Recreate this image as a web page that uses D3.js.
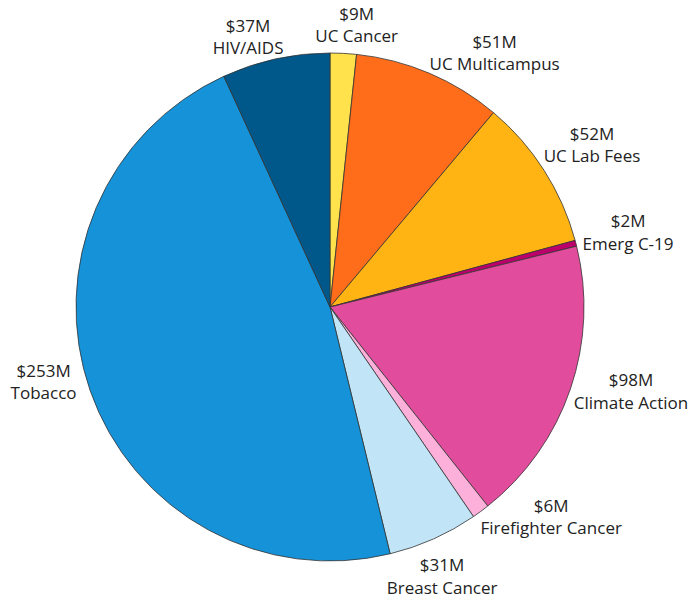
<!DOCTYPE html>
<html>
<head>
<meta charset="utf-8">
<script src="https://cdn.jsdelivr.net/npm/d3@7"></script>
<style>
  body { margin: 0; background: #fff; }
  text { font-family: "Open Sans", sans-serif; font-size: 17px; fill: #222; }
</style>
</head>
<body>
<div id="chart"></div>
<script>
// data (clockwise from 12 o'clock)
var categories = ["UC Cancer", "UC Multicampus", "UC Lab Fees", "Emerg C-19", "Climate Action",
                  "Firefighter Cancer", "Breast Cancer", "Tobacco", "HIV/AIDS"];
var amounts = [9, 51, 52, 2, 98, 6, 31, 253, 37];   // $M
var colors = ["#FFE24C", "#FF6C1A", "#FFB414", "#BC006B", "#E24C9C",
              "#FCB0DA", "#C1E4F6", "#1592D8", "#00578A"];

// label nudges (layout only), relative to a point just outside each slice
var labelNudge = [[12, -2], [55, 4], [26, -11], [27, -4], [36, -6],
                  [55, -15], [-2, 14], [-22, -17], [-22, 4]];

var width = 691, height = 600;
var cx = 330, cy = 307, radius = 254;

var svg = d3.select("#chart").append("svg")
    .attr("width", width)
    .attr("height", height);

var g = svg.append("g")
    .attr("transform", "translate(" + cx + "," + cy + ")");

var data = categories.map(function(c, i) {
  return {name: c, value: amounts[i], color: colors[i], nudge: labelNudge[i]};
});

var pie = d3.pie()
    .sort(null)
    .value(function(d) { return d.value; });

var arc = d3.arc()
    .innerRadius(0)
    .outerRadius(radius);

// point a bit outside the rim, used as base for the labels
var labelArc = d3.arc()
    .innerRadius(280)
    .outerRadius(280);

var arcs = pie(data);

g.selectAll("path.slice")
    .data(arcs)
  .enter().append("path")
    .attr("class", "slice")
    .attr("d", arc)
    .attr("fill", function(d) { return d.data.color; })
    .attr("stroke", "#333")
    .attr("stroke-width", 0.8)
    .attr("stroke-linejoin", "round");

var labels = g.selectAll("g.label")
    .data(arcs)
  .enter().append("g")
    .attr("class", "label")
    .attr("transform", function(d) {
      var p = labelArc.centroid(d);
      return "translate(" + (p[0] + d.data.nudge[0]) + "," + (p[1] + d.data.nudge[1]) + ")";
    });

labels.append("text")
    .attr("text-anchor", "middle")
    .attr("y", -5.5)
    .text(function(d) { return "$" + d.data.value + "M"; });

labels.append("text")
    .attr("text-anchor", "middle")
    .attr("y", 17)
    .text(function(d) { return d.data.name; });
</script>
</body>
</html>
